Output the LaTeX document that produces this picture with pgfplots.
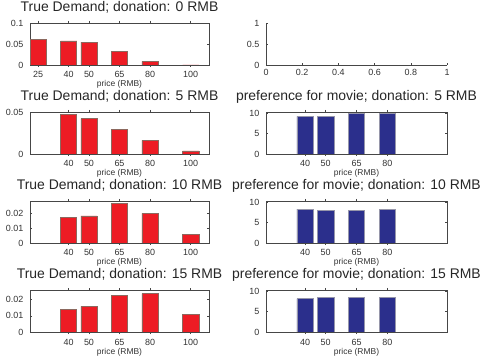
\documentclass[border=0pt]{standalone}
\usepackage{fontspec}
\setmainfont{Liberation Sans}
\usepackage{pgfplots}
\pgfplotsset{compat=1.18}

\definecolor{barred}{RGB}{237,28,36}
\definecolor{rededge}{RGB}{140,105,95}
\definecolor{barblue}{RGB}{43,47,140}
\definecolor{blueedge}{RGB}{150,150,170}
\definecolor{axisgray}{RGB}{70,70,70}

\pgfplotsset{
  panel/.style={
    scale only axis, anchor=south west,
    height=42bp,
    ymin=0,
    tick align=inside, major tick length=2bp,
    every tick/.style={axisgray, line width=0.4bp},
    axis line style={axisgray, line width=0.5bp},
    tick label style={font=\fontsize{9}{10}\selectfont, text=black!80, inner sep=0.5bp},
    xticklabel style={anchor=base, yshift=-11bp},
    yticklabel style={anchor=east, xshift=-6bp},
    /pgf/number format/assume math mode=true,
    title style={font=\fontsize{14}{16}\selectfont, text=black!85, inner sep=0.5bp,
      at={(0.5,1)}, anchor=base, yshift=6bp},
    xlabel style={font=\fontsize{8.5}{9.5}\selectfont, text=black!80, inner sep=0.5bp,
      at={(0.5,0)}, anchor=base, yshift=-22bp},
    scaled ticks=false,
  },
  barpanel/.style={
    panel,
    xmin=21, xmax=109,
    ybar, bar width=8,
    xlabel={price (RMB)},
  },
  leftpanel/.style={barpanel, width=179bp,
    xtick={40,50,65,80,100}, xticklabels={40,50,65,80,100}},
  rightpanel/.style={barpanel, width=181bp, ymax=10.3,
    xtick={40,50,65,80}, xticklabels={40,50,65,80},
    ytick={0,5,10}, yticklabels={0,5,10}},
  redbars/.style={fill=barred, draw=rededge, line width=0.6bp},
  bluebars/.style={fill=barblue, draw=blueedge, line width=0.6bp},
}

\begin{document}
\begin{tikzpicture}
\path[use as bounding box] (0,0) rectangle (482bp,356bp);

% donation 0
\begin{axis}[leftpanel, at={(30bp,291bp)}, ymax=0.1,
  xtick={25,40,50,65,80,100}, xticklabels={25,40,50,65,80,100},
  ytick={0,0.05,0.1}, yticklabels={0,0.05,0.1},
  title={True Demand; donation: 0 RMB}]
\addplot[redbars] coordinates {(25,0.0606) (40,0.0575) (50,0.0543) (65,0.0330) (80,0.0087) (100,0)};
\end{axis}

\begin{axis}[panel, width=181bp, at={(266bp,291bp)},
  xmin=0, xmax=1, ymax=1,
  axis x line*=bottom, axis y line*=left,
  xtick={0,0.2,0.4,0.6,0.8,1}, xticklabels={0,0.2,0.4,0.6,0.8,1},
  ytick={0,0.5,1}, yticklabels={0,0.5,1}]
\end{axis}

% donation 5
\begin{axis}[leftpanel, at={(30bp,202bp)}, ymax=0.05,
  ytick={0,0.05}, yticklabels={0,0.05},
  title={True Demand; donation: 5 RMB}]
\addplot[redbars] coordinates {(40,0.0475) (50,0.0421) (65,0.0293) (80,0.0161) (100,0.0037)};
\end{axis}

\begin{axis}[rightpanel, at={(266bp,202bp)},
  title={preference for movie; donation: 5 RMB}]
\addplot[bluebars] coordinates {(40,9.24) (50,9.24) (65,9.9) (80,9.9)};
\end{axis}

% donation 10
\begin{axis}[leftpanel, at={(30bp,113bp)}, ymax=0.028,
  ytick={0,0.01,0.02}, yticklabels={0,0.01,0.02},
  title={True Demand; donation: 10 RMB}]
\addplot[redbars] coordinates {(40,0.0170) (50,0.0180) (65,0.0264) (80,0.0198) (100,0.0059)};
\end{axis}

\begin{axis}[rightpanel, at={(266bp,113bp)},
  title={preference for movie; donation: 10 RMB}]
\addplot[bluebars] coordinates {(40,8.29) (50,7.95) (65,8.03) (80,8.29)};
\end{axis}

% donation 15
\begin{axis}[leftpanel, at={(30bp,24bp)}, ymax=0.026,
  ytick={0,0.01,0.02}, yticklabels={0,0.01,0.02},
  title={True Demand; donation: 15 RMB}]
\addplot[redbars] coordinates {(40,0.0139) (50,0.0159) (65,0.0227) (80,0.0237) (100,0.0110)};
\end{axis}

\begin{axis}[rightpanel, at={(266bp,24bp)},
  title={preference for movie; donation: 15 RMB}]
\addplot[bluebars] coordinates {(40,8.17) (50,8.52) (65,8.52) (80,8.52)};
\end{axis}
\end{tikzpicture}
\end{document}
